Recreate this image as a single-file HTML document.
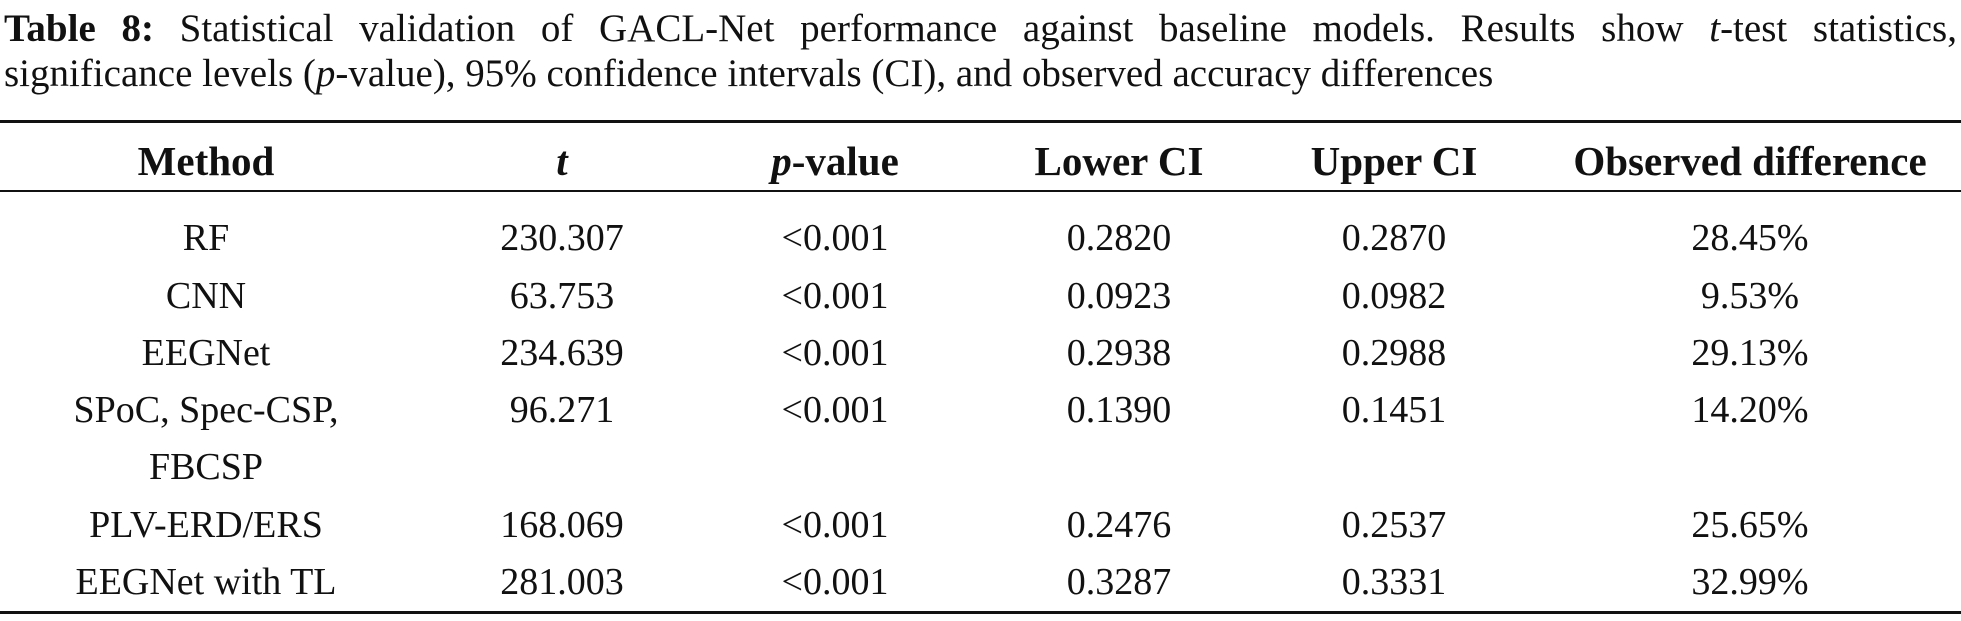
<!DOCTYPE html>
<html><head><meta charset="utf-8">
<style>
body{margin:0;background:#fff;}
#root{position:relative;width:1961px;height:621px;overflow:hidden;font-family:"Liberation Serif",serif;color:#111;}
.cap{position:absolute;left:4px;width:1953px;font-size:39px;line-height:45px;}
.l1{top:6px;text-align:justify;text-align-last:justify;}
.l2{top:51px;}
.rule{position:absolute;left:0;width:1961px;background:#111;}
.c{position:absolute;font-size:38px;transform:translateX(-50%);white-space:nowrap;line-height:40px;}
.h{font-weight:bold;font-size:41px;}
</style></head><body>
<div id="root">
<div class="cap l1"><b>Table 8:</b> Statistical validation of GACL-Net performance against baseline models. Results show <i>t</i>-test statistics,</div>
<div class="cap l2">significance levels (<i>p</i>-value), 95% confidence intervals (CI), and observed accuracy differences</div>
<div class="rule" style="top:120px;height:3px"></div>
<div class="rule" style="top:190px;height:2px"></div>
<div class="rule" style="top:611px;height:3px"></div>
<div id="tbl"></div>
</div>
<script>
const cols=[206,562,835,1119,1394,1750];
const headers=["Method","<i>t</i>","<i>p</i>-value","Lower CI","Upper CI","Observed difference"];
const rows=[
["RF","230.307","&lt;0.001","0.2820","0.2870","28.45%"],
["CNN","63.753","&lt;0.001","0.0923","0.0982","9.53%"],
["EEGNet","234.639","&lt;0.001","0.2938","0.2988","29.13%"],
["SPoC, Spec-CSP,","96.271","&lt;0.001","0.1390","0.1451","14.20%"],
["FBCSP","","","","",""],
["PLV-ERD/ERS","168.069","&lt;0.001","0.2476","0.2537","25.65%"],
["EEGNet with TL","281.003","&lt;0.001","0.3287","0.3331","32.99%"]];
const rowTops=[218,276,333,390,447,505,562];
const root=document.getElementById('tbl');
headers.forEach((h,i)=>{
 const d=document.createElement('div');
 d.className='c h';d.style.left=cols[i]+'px';d.style.top='141px';d.innerHTML=h;
 
 
 root.appendChild(d);
});
rows.forEach((r,ri)=>{
 r.forEach((v,i)=>{
  if(!v)return;
  const d=document.createElement('div');
  d.className='c';d.style.left=cols[i]+'px';d.style.top=rowTops[ri]+'px';d.innerHTML=v;
  
  
  root.appendChild(d);
 });
});
</script>
</body></html>
